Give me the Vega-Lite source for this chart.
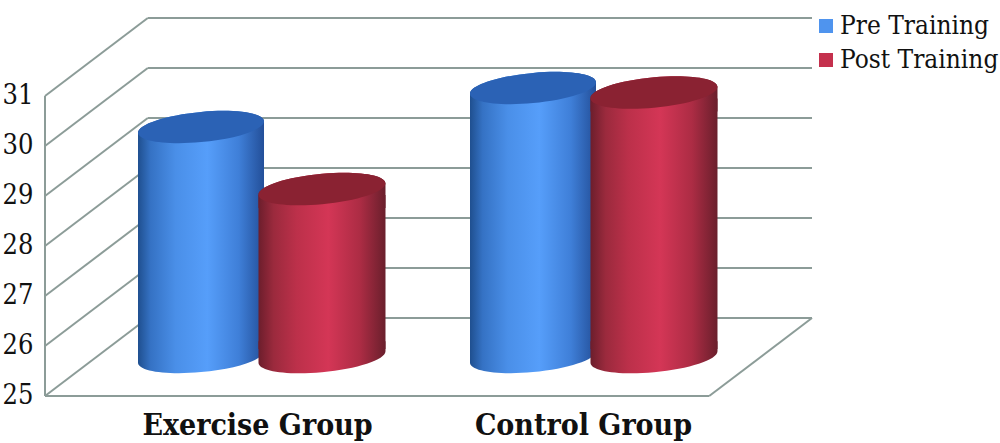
{
"$schema":"https://vega.github.io/schema/vega-lite/v6.json",
"width":1000,"height":443,"padding":0,"autosize":{"type":"none"},
"background":"white",
"config":{"view":{"stroke":null}},
"datasets":{
"bars":[
{"group":"Exercise Group","series":"Pre Training","value":29.6},
{"group":"Exercise Group","series":"Post Training","value":28.36},
{"group":"Control Group","series":"Pre Training","value":30.38},
{"group":"Control Group","series":"Post Training","value":30.29}],
"grid":[
{"a":0,"a2":0.134,"p":24.22,"p2":25.78},
{"a":0,"a2":0.134,"p":25.22,"p2":26.78},
{"a":0,"a2":0.134,"p":26.22,"p2":27.78},
{"a":0,"a2":0.134,"p":27.22,"p2":28.78},
{"a":0,"a2":0.134,"p":28.22,"p2":29.78},
{"a":0,"a2":0.134,"p":29.22,"p2":30.78},
{"a":0,"a2":0.134,"p":30.22,"p2":31.78},
{"a":0.134,"a2":1,"p":25.78,"p2":25.78},
{"a":0.134,"a2":1,"p":26.78,"p2":26.78},
{"a":0.134,"a2":1,"p":27.78,"p2":27.78},
{"a":0.134,"a2":1,"p":28.78,"p2":28.78},
{"a":0.134,"a2":1,"p":29.78,"p2":29.78},
{"a":0.134,"a2":1,"p":30.78,"p2":30.78},
{"a":0.134,"a2":1,"p":31.78,"p2":31.78},
{"a":0,"a2":0,"p":24.22,"p2":30.22},
{"a":0,"a2":0.866,"p":24.22,"p2":24.22},
{"a":0.866,"a2":1,"p":24.22,"p2":25.78}]
},
"resolve":{"scale":{"x":"independent"},"axis":{"x":"independent"}},
"layer":[
{"data":{"name":"grid"},
 "mark":{"type":"rule","color":"#8C9C98","strokeWidth":2},
 "encoding":{
  "x":{"field":"a","type":"quantitative","axis":null,"scale":{"domain":[0,1],"range":[45,812]}},
  "x2":{"field":"a2"},
  "y":{"field":"p","type":"quantitative","scale":{"domain":[23.28,32.14],"range":[443,0],"nice":false,"zero":false},
   "axis":{"title":null,"values":[25,26,27,28,29,30,31],"grid":false,"domain":false,"ticks":false,"orient":"left","offset":-33,"labelPadding":0,"labelOffset":38,"labelFont":"DejaVu Serif Condensed","labelFontSize":27,"labelColor":"#111111","labelFlush":false,"labelOverlap":false}},
  "y2":{"field":"p2"}}},
{"data":{"name":"bars"},
 "encoding":{
  "x":{"field":"group","type":"nominal","sort":["Exercise Group","Control Group"],"scale":{"range":[95.5,759.5],"paddingInner":0,"paddingOuter":0},
   "axis":{"title":null,"orient":"bottom","offset":-33,"labelAngle":0,"labelPadding":0,"labelLimit":500,"labelOffset":{"expr":"datum.value==='Control Group'?-10:-4"},"domain":false,"ticks":false,"labelFont":"DejaVu Serif Condensed","labelFontWeight":"bold","labelFontSize":30,"labelColor":"#111111"}},
  "xOffset":{"field":"series","type":"nominal","sort":["Pre Training","Post Training"],"scale":{"domain":["Pre Training","Post Training"],"paddingOuter":0.372,"paddingInner":0}}},
 "layer":[
 {"mark":{"type":"bar","width":126,"yOffset":6,"y2Offset":-8},
  "encoding":{"y":{"field":"value","type":"quantitative"},"y2":{"datum":25},
   "color":{"field":"series","type":"nominal","scale":{"domain":["Pre Training","Post Training"],"range":["#4F94EE","#C4304D"]},
    "legend":{"title":null,"orient":"none","legendX":813,"legendY":13,"symbolType":"square","symbolSize":196,"labelFont":"DejaVu Serif Condensed","labelFontSize":26,"labelLimit":500,"labelColor":"#111111","rowPadding":8,"labelOffset":1}}}},
 {"transform":[{"filter":"datum.series==='Pre Training'"}],
  "layer":[
  {"mark":{"type":"bar","width":126,"yOffset":6,"y2Offset":-8,"fill":{"gradient":"linear","x1":0,"x2":1,"y1":0,"y2":0,"stops":[{"offset":0,"color":"#1F4F8F"},{"offset":0.1,"color":"#3572C4"},{"offset":0.3,"color":"#4A8FE8"},{"offset":0.55,"color":"#569EFA"},{"offset":0.8,"color":"#3F7FD8"},{"offset":1,"color":"#234F99"}]}},
   "encoding":{"y":{"field":"value","type":"quantitative"},"y2":{"datum":25}}},
  {"mark":{"type":"point","filled":true,"opacity":1,"size":15876,"shape":"M1,-0.09 C1,0.0425 0.5523,0.19 0,0.24 C-0.5523,0.29 -1,0.2225 -1,0.09 L-1,-0.25 L1,-0.25 Z","fill":{"gradient":"linear","x1":0,"x2":1,"y1":0,"y2":0,"stops":[{"offset":0,"color":"#1F4F8F"},{"offset":0.1,"color":"#3572C4"},{"offset":0.3,"color":"#4A8FE8"},{"offset":0.55,"color":"#569EFA"},{"offset":0.8,"color":"#3F7FD8"},{"offset":1,"color":"#234F99"}]}},
   "encoding":{"y":{"datum":25}}},
  {"mark":{"type":"point","filled":true,"opacity":1,"size":15876,"shape":"M-1,0.09 C-1,-0.0425 -0.5523,-0.19 0,-0.24 C0.5523,-0.29 1,-0.2225 1,-0.09 L1,0.3 L-1,0.3 Z","fill":{"gradient":"linear","x1":0,"x2":1,"y1":0,"y2":0,"stops":[{"offset":0,"color":"#1F4F8F"},{"offset":0.1,"color":"#3572C4"},{"offset":0.3,"color":"#4A8FE8"},{"offset":0.55,"color":"#569EFA"},{"offset":0.8,"color":"#3F7FD8"},{"offset":1,"color":"#234F99"}]}},
   "encoding":{"y":{"field":"value","type":"quantitative"}}},
  {"mark":{"type":"point","filled":true,"opacity":1,"size":15876,"shape":"M1,-0.09 C1,0.0425 0.5523,0.19 0,0.24 C-0.5523,0.29 -1,0.2225 -1,0.09 C-1,-0.0425 -0.5523,-0.19 0,-0.24 C0.5523,-0.29 1,-0.2225 1,-0.09 Z","fill":"#2B62B5"},
   "encoding":{"y":{"field":"value","type":"quantitative"}}}
  ]},
 {"transform":[{"filter":"datum.series==='Post Training'"}],
  "layer":[
  {"mark":{"type":"bar","width":127,"yOffset":6,"y2Offset":-8,"fill":{"gradient":"linear","x1":0,"x2":1,"y1":0,"y2":0,"stops":[{"offset":0,"color":"#6C1E2C"},{"offset":0.12,"color":"#9B2A3D"},{"offset":0.3,"color":"#BC304A"},{"offset":0.55,"color":"#D43656"},{"offset":0.8,"color":"#AC2C44"},{"offset":1,"color":"#6A1F2C"}]}},
   "encoding":{"y":{"field":"value","type":"quantitative"},"y2":{"datum":25}}},
  {"mark":{"type":"point","filled":true,"opacity":1,"size":16129,"shape":"M1,-0.09 C1,0.0425 0.5523,0.19 0,0.24 C-0.5523,0.29 -1,0.2225 -1,0.09 L-1,-0.25 L1,-0.25 Z","fill":{"gradient":"linear","x1":0,"x2":1,"y1":0,"y2":0,"stops":[{"offset":0,"color":"#6C1E2C"},{"offset":0.12,"color":"#9B2A3D"},{"offset":0.3,"color":"#BC304A"},{"offset":0.55,"color":"#D43656"},{"offset":0.8,"color":"#AC2C44"},{"offset":1,"color":"#6A1F2C"}]}},
   "encoding":{"y":{"datum":25}}},
  {"mark":{"type":"point","filled":true,"opacity":1,"size":16129,"shape":"M-1,0.09 C-1,-0.0425 -0.5523,-0.19 0,-0.24 C0.5523,-0.29 1,-0.2225 1,-0.09 L1,0.3 L-1,0.3 Z","fill":{"gradient":"linear","x1":0,"x2":1,"y1":0,"y2":0,"stops":[{"offset":0,"color":"#6C1E2C"},{"offset":0.12,"color":"#9B2A3D"},{"offset":0.3,"color":"#BC304A"},{"offset":0.55,"color":"#D43656"},{"offset":0.8,"color":"#AC2C44"},{"offset":1,"color":"#6A1F2C"}]}},
   "encoding":{"y":{"field":"value","type":"quantitative"}}},
  {"mark":{"type":"point","filled":true,"opacity":1,"size":16129,"shape":"M1,-0.09 C1,0.0425 0.5523,0.19 0,0.24 C-0.5523,0.29 -1,0.2225 -1,0.09 C-1,-0.0425 -0.5523,-0.19 0,-0.24 C0.5523,-0.29 1,-0.2225 1,-0.09 Z","fill":"#8A2232"},
   "encoding":{"y":{"field":"value","type":"quantitative"}}}
  ]}
 ]}
]}
